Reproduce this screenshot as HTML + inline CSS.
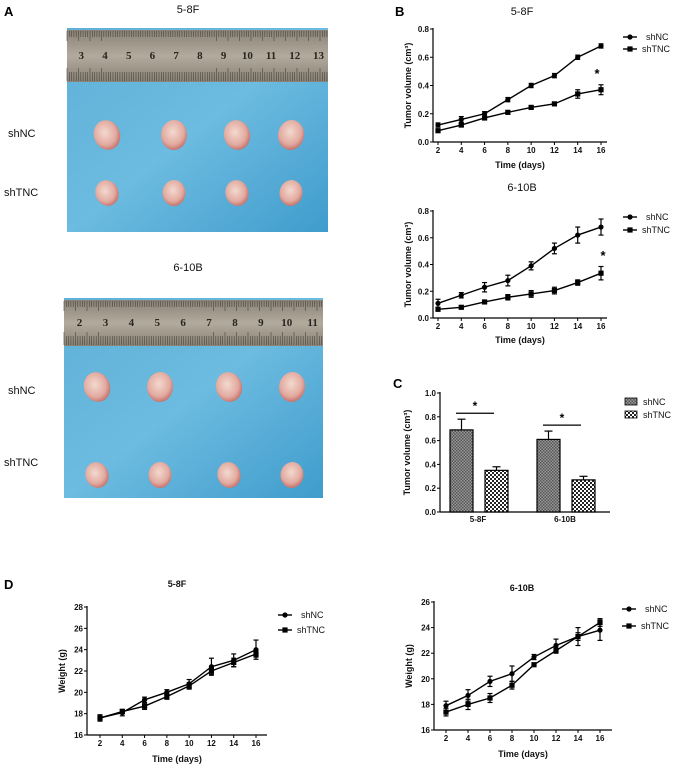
<!DOCTYPE html>
<html><head><meta charset="utf-8">
<style>
body{margin:0;background:#fff;}
svg{display:block;font-family:"Liberation Sans",Arial,sans-serif;}
.t{font-size:8px;font-weight:bold;fill:#111;}
.lab{font-size:9px;font-weight:bold;fill:#111;}
.ttl{font-size:11px;fill:#111;}
.pl{font-size:13px;font-weight:bold;fill:#000;}
.leg{font-size:9px;fill:#111;}
</style></head>
<body>
<svg id="fig" width="677" height="769" viewBox="0 0 677 769">
<defs>
<pattern id="p1" width="3" height="3" patternUnits="userSpaceOnUse"><rect width="3" height="3" fill="#999"/><rect width="1.5" height="1.5" fill="#555"/><rect x="1.5" y="1.5" width="1.5" height="1.5" fill="#555"/></pattern>
<pattern id="p2" width="4" height="4" patternUnits="userSpaceOnUse"><rect width="4" height="4" fill="#fff"/><rect width="2" height="2" fill="#222"/><rect x="2" y="2" width="2" height="2" fill="#222"/></pattern>
<linearGradient id="blue" x1="0" y1="0" x2="1" y2="1"><stop offset="0" stop-color="#5fb0d8"/><stop offset="0.5" stop-color="#6cbbe0"/><stop offset="1" stop-color="#3f9ccc"/></linearGradient>
<linearGradient id="rul" x1="0" y1="0" x2="0" y2="1"><stop offset="0" stop-color="#8a8276"/><stop offset="0.5" stop-color="#b2aa9d"/><stop offset="1" stop-color="#8a8276"/></linearGradient>
<radialGradient id="tum" cx="0.45" cy="0.4" r="0.6"><stop offset="0" stop-color="#f3d9cf"/><stop offset="0.7" stop-color="#e2aaa0"/><stop offset="1" stop-color="#c7746d"/></radialGradient>
</defs>
<text class="pl" x="4" y="16">A</text>
<text class="pl" x="395" y="16">B</text>
<text class="pl" x="393" y="388">C</text>
<text class="pl" x="4" y="589">D</text>

<text class="ttl" x="188" y="13" text-anchor="middle">5-8F</text>
<text class="ttl" x="188" y="271" text-anchor="middle">6-10B</text>
<g id="photos"></g>
<g id="charts"></g>
</svg>
<script>
const NS="http://www.w3.org/2000/svg";
const fig=document.getElementById('fig');
function mk(tag,at,parent){const e=document.createElementNS(NS,tag);for(const k in at)e.setAttribute(k,at[k]);(parent||fig).appendChild(e);return e;}
function tx(s,at,parent){const e=mk('text',at,parent);e.textContent=s;return e;}

// ---------- photos ----------
const photoRulerNums1=['3','4','5','6','7','8','9','10','11','12','13'];
const photoRulerNums2=['2','3','4','5','6','7','8','9','10','11'];
function photo(x0,y0,w,h,rh,nums,rowY,cols,labY,name){
  const g=mk('g',{});
  
  
  mk('rect',{x:x0,y:y0,width:w,height:h,fill:'url(#blue)'},g);
  mk('rect',{x:x0,y:y0+2,width:w,height:rh,fill:'url(#rul)'},g);
  for(let i=0;i<w;i+=2.3){mk('line',{x1:x0+i,y1:y0+3,x2:x0+i,y2:y0+(i%11.5<1?13:9),stroke:'#4a443c','stroke-width':0.6},g);
    mk('line',{x1:x0+i,y1:y0+rh+1,x2:x0+i,y2:y0+rh-(i%11.5<1?12:8),stroke:'#4a443c','stroke-width':0.6},g);}
  nums.forEach((n,i)=>{tx(n,{x:x0+w*(i+0.6)/nums.length,y:y0+rh/2+5,'font-size':11,'font-family':'Liberation Serif,serif','font-weight':'bold',fill:'#2a2520','text-anchor':'middle'},g);});
  rowY.forEach((ry,r)=>{cols.forEach((cx,c)=>{const rx=13-r*1.5, ryy=15-r*2;
    mk('ellipse',{cx:cx,cy:ry,rx:rx,ry:ryy,fill:'url(#tum)',transform:`rotate(${(c*23)%40-20} ${cx} ${ry})`},g);});});
  tx('shNC',{x:8,y:labY[0]+4,'font-size':11,fill:'#111'},g);
  tx('shTNC',{x:4,y:labY[1]+4,'font-size':11,fill:'#111'},g);
}
photo(67,28,261,204,52,photoRulerNums1,[135,193],[107,174,237,291],[133,192],'photo-5-8f');
photo(64,298,259,200,46,photoRulerNums2,[387,475],[97,160,229,292],[390,462],'photo-6-10b');

// ---------- line chart data ----------
const days=[2,4,6,8,10,12,14,16];
const b1_shNC=[0.12,0.16,0.20,0.30,0.40,0.47,0.60,0.68];
const b1_shNC_err=[0.015,0.02,0.015,0.015,0.015,0.015,0.015,0.015];
const b1_shTNC=[0.08,0.12,0.17,0.21,0.245,0.27,0.34,0.37];
const b1_shTNC_err=[0.01,0.01,0.01,0.01,0.01,0.01,0.03,0.035];
const b2_shNC=[0.11,0.17,0.23,0.28,0.39,0.52,0.62,0.68];
const b2_shNC_err=[0.03,0.02,0.035,0.04,0.03,0.04,0.06,0.06];
const b2_shTNC=[0.065,0.08,0.12,0.155,0.18,0.205,0.265,0.335];
const b2_shTNC_err=[0.01,0.01,0.01,0.02,0.025,0.025,0.02,0.05];
const d1_shNC=[17.6,18.1,19.3,20.0,20.8,22.4,23.0,24.0];
const d1_shNC_err=[0.2,0.3,0.25,0.25,0.4,0.8,0.6,0.9];
const d1_shTNC=[17.6,18.2,18.7,19.6,20.6,22.0,22.8,23.6];
const d1_shTNC_err=[0.3,0.2,0.3,0.25,0.3,0.3,0.4,0.3];
const d2_shNC=[17.9,18.7,19.8,20.4,21.7,22.6,23.3,23.8];
const d2_shNC_err=[0.35,0.45,0.4,0.6,0.2,0.5,0.7,0.8];
const d2_shTNC=[17.4,18.0,18.5,19.5,21.1,22.2,23.3,24.4];
const d2_shTNC_err=[0.3,0.4,0.35,0.3,0.1,0.2,0.3,0.3];
const bTicks=['0.0','0.2','0.4','0.6','0.8'];
const dTicks1=['16','18','20','22','24','26','28'];
const dTicks2=['16','18','20','22','24','26'];
const cGroups=['5-8F','6-10B'];
const c_shNC=[0.69,0.61];
const c_shNC_err=[0.09,0.07];
const c_shTNC=[0.35,0.27];
const c_shTNC_err=[0.03,0.03];
const cTicks=['0.0','0.2','0.4','0.6','0.8','1.0'];

function lineChart(o){
  const g=mk('g',{},document.getElementById('charts'));
  
  
  const X=d=>o.x2+(d-2)/(14)*(o.x16-o.x2);
  const Y=v=>o.y0+(v-o.vmin)/(o.vmax-o.vmin)*(o.y1-o.y0);
  mk('line',{x1:o.ax,y1:o.y1-1,x2:o.ax,y2:o.y0,stroke:'#000','stroke-width':1.2},g);
  mk('line',{x1:o.ax,y1:o.y0,x2:o.axEnd,y2:o.y0,stroke:'#000','stroke-width':1.2},g);
  o.ticks.forEach(t=>{const y=Y(+t);mk('line',{x1:o.ax-3,y1:y,x2:o.ax,y2:y,stroke:'#000'},g);
    tx(t,{class:'t',x:o.ax-4,y:y+3,'text-anchor':'end'},g);});
  days.forEach(d=>{const x=X(d);mk('line',{x1:x,y1:o.y0,x2:x,y2:o.y0+3,stroke:'#000'},g);
    tx(String(d),{class:'t',x:x,y:o.y0+11,'text-anchor':'middle'},g);});
  const xl=tx('Time (days)',{class:'lab',x:(o.ax+o.axEnd)/2,y:o.xlabY,'text-anchor':'middle'},g);
  
  const yl=tx(o.ylab,{class:'lab',x:0,y:0,'text-anchor':'middle',transform:`translate(${o.ax-22},${(o.y0+o.y1)/2}) rotate(-90)`},g);
  
  const tt=tx(o.title,{class:o.boldTitle?'lab':'ttl',x:o.tx,y:o.ty,'text-anchor':'middle','font-size':o.boldTitle?10:11},g);
  
  [[o.s1,o.e1,'c'],[o.s2,o.e2,'s']].forEach(([s,e,m])=>{
    const pts=days.map((d,i)=>X(d)+','+Y(s[i])).join(' ');
    const pl=mk('polyline',{points:pts,fill:'none',stroke:'#000','stroke-width':1.4},g);
    
    days.forEach((d,i)=>{const x=X(d),yt=Y(s[i]+e[i]),yb=Y(s[i]-e[i]);
      mk('line',{x1:x,y1:yt,x2:x,y2:yb,stroke:'#000','stroke-width':1.2},g);
      mk('line',{x1:x-2.5,y1:yt,x2:x+2.5,y2:yt,stroke:'#000','stroke-width':1.2},g);
      mk('line',{x1:x-2.5,y1:yb,x2:x+2.5,y2:yb,stroke:'#000','stroke-width':1.2},g);
      if(m==='c')mk('circle',{cx:x,cy:Y(s[i]),r:2.6,fill:'#000'},g);
      else mk('rect',{x:x-2.6,y:Y(s[i])-2.6,width:5.2,height:5.2,fill:'#000'},g);});
  });
  [['shNC','c'],['shTNC','s']].forEach(([n,m],k)=>{const ly=o.ly[k];
    const lg=mk('g',{},g);
    
    
    mk('line',{x1:o.lx-7,y1:ly,x2:o.lx+7,y2:ly,stroke:'#000','stroke-width':1.4},lg);
    if(m==='c')mk('circle',{cx:o.lx,cy:ly,r:2.6,fill:'#000'},lg);else mk('rect',{x:o.lx-2.6,y:ly-2.6,width:5.2,height:5.2,fill:'#000'},lg);
    tx(n,{class:'leg',x:o.lx+(m==='c'?16:12),y:ly+3},lg);});
  if(o.star){tx('*',{x:o.star[0],y:o.star[1],'font-size':13,'font-weight':'bold','text-anchor':'middle'},g);}
}
lineChart({name:'chart-b-5-8f',ax:433,axEnd:607,x2:438,x16:601,y0:142,y1:29,vmin:0,vmax:0.8,ticks:bTicks,
  s1:b1_shNC,e1:b1_shNC_err,s2:b1_shTNC,e2:b1_shTNC_err,xlabY:168,ylab:'Tumor volume (cm³)',title:'5-8F',tx:522,ty:15,
  lx:630,ly:[37,49],star:[597,78]});
lineChart({name:'chart-b-6-10b',ax:433,axEnd:607,x2:438,x16:601,y0:318,y1:211,vmin:0,vmax:0.8,ticks:bTicks,
  s1:b2_shNC,e1:b2_shNC_err,s2:b2_shTNC,e2:b2_shTNC_err,xlabY:343,ylab:'Tumor volume (cm³)',title:'6-10B',tx:522,ty:191,
  lx:630,ly:[217,230],star:[603,260]});
lineChart({name:'chart-d-5-8f',ax:87,axEnd:267,x2:100,x16:256,y0:735,y1:607,vmin:16,vmax:28,ticks:dTicks1,
  s1:d1_shNC,e1:d1_shNC_err,s2:d1_shTNC,e2:d1_shTNC_err,xlabY:762,ylab:'Weight (g)',title:'5-8F',tx:177,ty:587,boldTitle:true,
  lx:285,ly:[615,630]});
lineChart({name:'chart-d-6-10b',ax:434,axEnd:612,x2:446,x16:600,y0:730,y1:602,vmin:16,vmax:26,ticks:dTicks2,
  s1:d2_shNC,e1:d2_shNC_err,s2:d2_shTNC,e2:d2_shTNC_err,xlabY:757,ylab:'Weight (g)',title:'6-10B',tx:522,ty:591,boldTitle:true,
  lx:629,ly:[609,626]});

// ---------- bar chart C ----------
(function(){
  const g=mk('g',{},document.getElementById('charts'));
  
  
  const ax=440,axEnd=610,y0=512,y1=393;
  const Y=v=>y0-(v/1.0)*(y0-y1);
  const centers=[478,565],bw=23;
  mk('line',{x1:ax,y1:y1-1,x2:ax,y2:y0,stroke:'#000','stroke-width':1.2},g);
  mk('line',{x1:ax,y1:y0,x2:axEnd,y2:y0,stroke:'#000','stroke-width':1.2},g);
  cTicks.forEach(t=>{const y=Y(+t);mk('line',{x1:ax-3,y1:y,x2:ax,y2:y,stroke:'#000'},g);
    tx(t,{class:'t',x:ax-4,y:y+3,'text-anchor':'end'},g);});
  const yl=tx('Tumor volume (cm³)',{class:'lab',x:0,y:0,'text-anchor':'middle',transform:`translate(${ax-30},${(y0+y1)/2}) rotate(-90)`},g);
  
  cGroups.forEach((gname,i)=>{
    const c=centers[i];
    tx(gname,{class:'t',x:c,y:y0+10,'text-anchor':'middle'},g);
    [[c_shNC[i],c_shNC_err[i],c-28,'url(#p1)','shnc'],[c_shTNC[i],c_shTNC_err[i],c+7,'url(#p2)','shtnc']].forEach(([v,e,x,f,n])=>{
      mk('line',{x1:x+bw/2,y1:Y(v),x2:x+bw/2,y2:Y(v+e),stroke:'#000','stroke-width':1.2},g);
      mk('line',{x1:x+bw/2-4,y1:Y(v+e),x2:x+bw/2+4,y2:Y(v+e),stroke:'#000','stroke-width':1.2},g);
      const r=mk('rect',{x:x,y:Y(v),width:bw,height:y0-Y(v),fill:f,stroke:'#000','stroke-width':1.2},g);
      
      
    });
    const top=Math.max(c_shNC[i]+c_shNC_err[i],c_shTNC[i]+c_shTNC_err[i])+0.05;
    mk('line',{x1:c-22,y1:Y(top),x2:c+16,y2:Y(top),stroke:'#000','stroke-width':1.2},g);
    tx('*',{x:c-3,y:Y(top)-3,'font-size':12,'font-weight':'bold','text-anchor':'middle'},g);
  });
  [['shNC','url(#p1)',402],['shTNC','url(#p2)',415]].forEach(([n,f,y])=>{
    const lg=mk('g',{},g);
    
    
    mk('rect',{x:625,y:y-4,width:12,height:7,fill:f,stroke:'#000','stroke-width':0.8},lg);
    tx(n,{class:'leg',x:643,y:y+3},lg);});
})();
</script>
</body></html>
